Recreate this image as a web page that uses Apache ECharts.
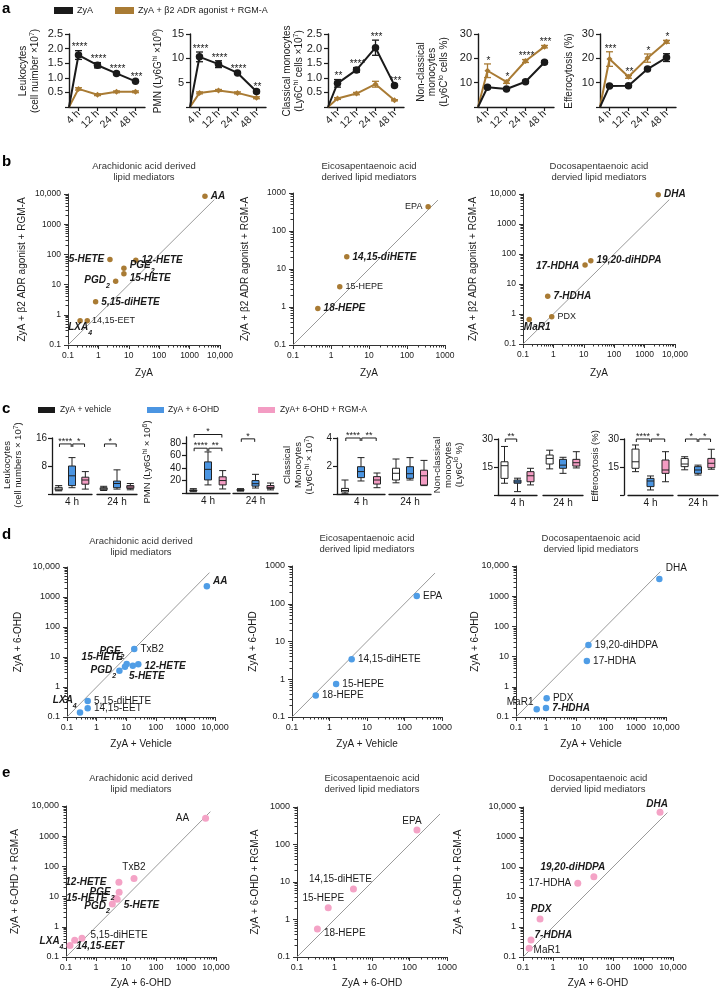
<!DOCTYPE html>
<html><head><meta charset="utf-8">
<script src="https://cdn.jsdelivr.net/npm/echarts@6.0.0/dist/echarts.min.js"></script>
<style>html,body{margin:0;padding:0;background:#fff;}#chart{width:720px;height:991px;}</style>
</head><body><div id="chart"></div>
<script>
// ================= DATA =================
// Panel a (mean, SEM)
const timeLabels = ['4 h', '12 h', '24 h', '48 h'];
const leukZyA = [1.78, 1.43, 1.15, 0.88];
const leukZyAErr = [0.15, 0.09, 0.04, 0.03];
const leukAgo = [0.62, 0.42, 0.52, 0.52];
const leukAgoErr = [0.04, 0.03, 0.03, 0.03];
const leukSig = ['****', '****', '****', '***'];
const pmnZyA = [10.3, 8.8, 7.0, 3.2];
const pmnZyAErr = [1.0, 0.7, 0.2, 0.3];
const pmnAgo = [2.9, 3.4, 2.9, 1.9];
const pmnAgoErr = [0.2, 0.2, 0.2, 0.2];
const pmnSig = ['****', '****', '****', '**'];
const cmZyA = [0.81, 1.27, 2.03, 0.74];
const cmZyAErr = [0.13, 0.08, 0.26, 0.04];
const cmAgo = [0.29, 0.46, 0.78, 0.23];
const cmAgoErr = [0.03, 0.04, 0.10, 0.02];
const cmSig = ['**', '****', '***', '***'];
const ncmZyA = [8.1, 7.4, 10.4, 18.4];
const ncmZyAErr = [0.6, 0.5, 0.5, 0.6];
const ncmAgo = [14.9, 10.3, 18.9, 24.8];
const ncmAgoErr = [2.8, 0.6, 0.6, 0.5];
const ncmSig = ['*', '*', '****', '***'];
const effZyA = [8.6, 8.7, 15.6, 20.3];
const effZyAErr = [0.5, 0.5, 0.6, 1.6];
const effAgo = [19.7, 12.4, 20.1, 26.8];
const effAgoErr = [3.0, 0.6, 1.7, 0.6];
const effSig = ['***', '**', '*', '*'];

// Panel c boxes [min, Q1, median, Q3, max] for vehicle, 6-OHD, 6-OHD + RGM-A
const cGroups = ['ZyA + vehicle', 'ZyA + 6-OHD', 'ZyA+ 6-OHD + RGM-A'];
const leukBox4h = [[0.9, 1.1, 1.4, 1.9, 2.4], [1.8, 2.4, 5.2, 8.0, 10.4], [1.4, 2.8, 4.0, 4.8, 6.4]];
const leukBox24h = [[1.0, 1.2, 1.5, 1.8, 2.2], [1.4, 1.8, 3.0, 3.7, 6.9], [1.2, 1.6, 2.0, 2.4, 3.0]];
const pmnBox4h = [[2, 3, 4, 5, 7], [13, 21, 38, 50, 66], [6.5, 13, 20, 26, 36]];
const pmnBox24h = [[3, 4, 5, 6, 7], [8, 11, 15, 20, 30], [5, 7, 9, 12, 16]];
const cmBox4h = [[0.05, 0.15, 0.25, 0.4, 1.0], [0.93, 1.17, 1.6, 1.95, 2.6], [0.45, 0.71, 1.0, 1.24, 1.5]];
const cmBox24h = [[0.8, 1.0, 1.48, 1.84, 2.5], [1.0, 1.12, 1.45, 1.95, 2.6], [0.6, 0.64, 1.3, 1.7, 2.4]];
const ncmBox4h = [[6.3, 8.9, 15.7, 17.8, 26], [1.8, 6.3, 7, 8, 9], [5.4, 7.1, 10.3, 12.5, 14.3]];
const ncmBox24h = [[14, 16.6, 19.6, 21.4, 24], [11.6, 14.3, 16, 19.1, 20.2], [14.5, 15.5, 17.3, 19.1, 23.2]];
const effBox4h = [[12.5, 14.3, 17.8, 24.6, 26.8], [2.7, 4.5, 7.5, 8.9, 10.2], [7.1, 11.6, 13.4, 18.75, 23.2]];
const effBox24h = [[13.5, 15.2, 16.6, 19.6, 20.5], [10.7, 11.6, 13.4, 15.2, 16], [13.8, 14.6, 17, 19.6, 24.5]];
// significance brackets [fromGroup, toGroup, stars, height]
const leukSig4h = [[0, 1, '****', 14.3], [1, 2, '*', 14.3]];
const leukSig24h = [[0, 1, '*', 14.3]];
const pmnSig4h = [[0, 2, '*', 94], [0, 1, '****', 72], [1, 2, '**', 72]];
const pmnSig24h = [[0, 1, '*', 87]];
const cmSig4h = [[0, 1, '****', 4.0], [1, 2, '**', 4.0]];
const ncmSig4h = [[0, 1, '**', 30]];
const effSig4h = [[0, 1, '****', 30], [1, 2, '*', 30]];
const effSig24h = [[0, 1, '*', 30], [1, 2, '*', 30]];

// Panel b (ZyA vs ZyA + b2 agonist + RGM-A)
const b1Names = ['AA', '5-HETE', '12-HETE', 'PGE2', '15-HETE', 'PGD2', '5,15-diHETE', 'LXA4', '14,15-EET'];
const b1X = [3200, 2.4, 17, 6.9, 6.9, 3.7, 0.81, 0.25, 0.43];
const b1Y = [8500, 68, 64, 35, 23, 13, 2.7, 0.64, 0.64];
const b2Names = ['EPA', '14,15-diHETE', '15-HEPE', '18-HEPE'];
const b2X = [360, 2.6, 1.7, 0.45];
const b2Y = [435, 21, 3.4, 0.92];
const b3Names = ['DHA', '19,20-diHDPA', '17-HDHA', '7-HDHA', 'PDX', 'MaR1'];
const b3X = [2800, 17, 11, 0.65, 0.88, 0.16];
const b3Y = [9500, 60, 43, 3.9, 0.81, 0.66];
// Panel d (ZyA + vehicle vs ZyA + 6-OHD)
const d1Names = ['AA', 'TxB2', 'PGE2', '15-HETE', '12-HETE', '5-HETE', 'PGD2', '5,15-diHETE', '14,15-EET', 'LXA4'];
const d1X = [5300, 18.7, 10.4, 9.1, 25.6, 16.7, 5.9, 0.5, 0.5, 0.275];
const d1Y = [2300, 18.5, 5.8, 4.7, 5.7, 5.1, 3.5, 0.34, 0.195, 0.14];
const d2Names = ['EPA', '14,15-diHETE', '15-HEPE', '18-HEPE'];
const d2X = [212, 3.9, 1.5, 0.43];
const d2Y = [160, 3.4, 0.75, 0.37];
const d3Names = ['DHA', '19,20-diHDPA', '17-HDHA', 'PDX', '7-HDHA', 'MaR1'];
const d3X = [6000, 26, 23, 1.05, 1.0, 0.49];
const d3Y = [3700, 24, 7.1, 0.42, 0.2, 0.18];
// Panel e (ZyA + 6-OHD vs ZyA + 6-OHD + RGM-A)
const e1Names = ['AA', 'TxB2', '12-HETE', 'PGE2', '15-HETE', '5-HETE', 'PGD2', '5,15-diHETE', '14,15-EET', 'LXA4'];
const e1X = [4500, 18.5, 5.8, 5.9, 4.6, 5.1, 3.5, 0.34, 0.195, 0.136];
const e1Y = [3900, 40, 30, 14, 8.7, 8.1, 5.7, 0.42, 0.36, 0.24];
const e2Names = ['EPA', '14,15-diHETE', '15-HEPE', '18-HEPE'];
const e2X = [158, 3.2, 0.68, 0.35];
const e2Y = [245, 6.5, 2.07, 0.56];
const e3Names = ['DHA', '19,20-diHDPA', '17-HDHA', 'PDX', '7-HDHA', 'MaR1'];
const e3X = [3700, 23, 6.7, 0.37, 0.185, 0.16];
const e3Y = [6700, 47, 29, 1.85, 0.37, 0.195];

// ================= STYLE / LAYOUT =================
const FONT = '"Liberation Sans", Arial, Helvetica, sans-serif';
const INK = '#1a1a1a';
const BROWN = '#a97b34';
const BLUE = '#4b95e2';
const PINK = '#f39cc3';
const DOT_BLUE = '#4f9de6';
const DOT_PINK = '#f4a3c6';

const grids = [], xAxes = [], yAxes = [], series = [], graphics = [];
function addGrid(left, top, width, height) {
  grids.push({left: left, top: top, width: width, height: height, containLabel: false, outerBoundsMode: 'none'});
  return grids.length - 1;
}
function addText(x, y, text, o) {
  o = o || {};
  const fs = o.fs || 10;
  const align = o.align || 'center';
  const st = {text: text, fill: o.color || INK, fontSize: fs, fontFamily: FONT, fontWeight: o.weight || 'normal',
    align: align, verticalAlign: 'middle', textAlign: align, textVerticalAlign: 'middle',
    lineHeight: o.lh || Math.round(fs * 1.15)};
  if (o.rich) st.rich = o.rich;
  graphics.push({type: 'text', x: x, y: y, rotation: o.rot || 0, silent: true, z: 100, style: st});
}
function supRich(fs, lh) {
  return {
    m: {fontSize: fs, fontFamily: FONT, fill: INK, lineHeight: lh, verticalAlign: 'bottom'},
    s: {fontSize: Math.round(fs * 0.7), fontFamily: FONT, fill: INK, lineHeight: lh, verticalAlign: 'top'}
  };
}
const ROT = Math.PI / 2;

// ---------- Panel a ----------
const A_TICKS = timeLabels.map(function (_, i) { return i + 0.5; });
function errRender(color) {
  return function (params, api) {
    const x = api.value(0), m = api.value(1), e = api.value(2);
    const t = api.coord([x, m + e]), b = api.coord([x, m - e]);
    const w = 3.5, st = {stroke: color, lineWidth: 1.3};
    return {type: 'group', children: [
      {type: 'line', shape: {x1: t[0], y1: t[1], x2: b[0], y2: b[1]}, style: st},
      {type: 'line', shape: {x1: t[0] - w, y1: t[1], x2: t[0] + w, y2: t[1]}, style: st},
      {type: 'line', shape: {x1: b[0] - w, y1: b[1], x2: b[0] + w, y2: b[1]}, style: st}
    ]};
  };
}
function aChart(left, zy, zyE, ag, agE, sig, yMax, yInt, yFmt) {
  const gi = addGrid(left, 34, 76, 73);
  const xi = xAxes.push({gridIndex: gi, type: 'value', min: 0, max: timeLabels.length,
    axisLine: {show: true, onZero: false, lineStyle: {color: INK, width: 1.4}},
    axisTick: {show: true, customValues: A_TICKS, length: 4, lineStyle: {color: INK, width: 1.2}},
    axisLabel: {show: true, customValues: A_TICKS, rotate: 45, margin: 5, fontSize: 10.5, fontFamily: FONT, color: INK,
      formatter: function (v) { return timeLabels[Math.round(v - 0.5)] || ''; }},
    splitLine: {show: false}}) - 1;
  const yi = yAxes.push({gridIndex: gi, type: 'value', min: 0, max: yMax, interval: yInt,
    axisLine: {show: true, onZero: false, lineStyle: {color: INK, width: 1.4}},
    axisTick: {show: true, length: 4, lineStyle: {color: INK, width: 1.2}},
    axisLabel: {fontSize: 11, fontFamily: FONT, color: INK, margin: 6, formatter: yFmt},
    splitLine: {show: false}}) - 1;
  const ax = {xAxisIndex: xi, yAxisIndex: yi};
  series.push(Object.assign({type: 'line', name: 'ZyA + β2 ADR agonist + RGM-A', silent: true,
    data: [{value: [0, 0], symbol: 'none'}].concat(ag.map(function (v, i) { return [i + 0.5, v]; })),
    symbol: 'diamond', symbolSize: 6, lineStyle: {color: BROWN, width: 2}, itemStyle: {color: BROWN}, z: 3}, ax));
  series.push(Object.assign({type: 'custom', silent: true, z: 3,
    data: ag.map(function (v, i) { return [i + 0.5, v, agE[i]]; }), encode: {x: 0, y: 1}, renderItem: errRender(BROWN)}, ax));
  series.push(Object.assign({type: 'line', name: 'ZyA', silent: true,
    data: [{value: [0, 0], symbol: 'none'}].concat(zy.map(function (v, i) { return [i + 0.5, v]; })),
    symbol: 'circle', symbolSize: 7.5, lineStyle: {color: INK, width: 2}, itemStyle: {color: INK}, z: 4}, ax));
  series.push(Object.assign({type: 'custom', silent: true, z: 4,
    data: zy.map(function (v, i) { return [i + 0.5, v, zyE[i]]; }), encode: {x: 0, y: 1}, renderItem: errRender(INK)}, ax));
  series.push(Object.assign({type: 'custom', silent: true, z: 6,
    data: sig.map(function (s, i) { return [i + 0.5, Math.max(zy[i] + zyE[i], ag[i] + agE[i])]; }), encode: {x: 0, y: 1},
    renderItem: function (params, api) {
      const c = api.coord([api.value(0), api.value(1)]);
      return {type: 'text', x: c[0] + 1, y: c[1] + 2, style: {text: sig[params.dataIndex], fill: INK, fontSize: 10, fontFamily: FONT,
        align: 'center', verticalAlign: 'bottom', textAlign: 'center', textVerticalAlign: 'bottom'}};
    }}, ax));
}
const fmt1 = function (v) { return v === 0 ? '' : v.toFixed(1); };
const fmt0 = function (v) { return v === 0 ? '' : String(v); };
aChart(69, leukZyA, leukZyAErr, leukAgo, leukAgoErr, leukSig, 2.5, 0.5, fmt1);
aChart(190, pmnZyA, pmnZyAErr, pmnAgo, pmnAgoErr, pmnSig, 15, 5, fmt0);
aChart(328, cmZyA, cmZyAErr, cmAgo, cmAgoErr, cmSig, 2.5, 0.5, fmt1);
aChart(478, ncmZyA, ncmZyAErr, ncmAgo, ncmAgoErr, ncmSig, 30, 10, fmt0);
aChart(600, effZyA, effZyAErr, effAgo, effAgoErr, effSig, 30, 10, fmt0);

// ---------- Panel c ----------
const C_FILLS = ['#ffffff', BLUE, PINK];
function bracketRender(sig) {
  return function (params, api) {
    const s = sig[params.dataIndex];
    const p1 = api.coord([api.value(0), api.value(2)]);
    const p2 = api.coord([api.value(1), api.value(2)]);
    const x1 = p1[0] + 0.8, x2 = p2[0] - 0.8, y = p1[1];
    return {type: 'group', children: [
      {type: 'polyline', shape: {points: [[x1, y + 3], [x1, y], [x2, y], [x2, y + 3]]}, style: {stroke: INK, lineWidth: 1, fill: 'none'}},
      {type: 'text', x: (x1 + x2) / 2, y: y + 2, style: {text: s[2], fill: INK, fontSize: 9, fontFamily: FONT,
        align: 'center', verticalAlign: 'bottom', textAlign: 'center', textVerticalAlign: 'bottom'}}
    ]};
  };
}
function cGroup(o) {
  const gi = addGrid(o.left, o.top, o.width, o.height);
  const xi = xAxes.push({gridIndex: gi, type: 'category', data: cGroups,
    axisLine: {show: true, onZero: false, lineStyle: {color: INK, width: 1.3}}, axisTick: {show: false}, axisLabel: {show: false},
    name: o.label, nameLocation: 'middle', nameGap: 3, nameTextStyle: {fontSize: 10, fontFamily: FONT, color: INK},
    splitLine: {show: false}}) - 1;
  const yi = yAxes.push({gridIndex: gi, type: 'value', min: 0, max: o.yMax, show: o.showY, offset: o.yOffset || 0,
    axisLine: {show: true, onZero: false, lineStyle: {color: INK, width: 1.3}},
    axisTick: {show: true, customValues: o.yTicks, length: 4, lineStyle: {color: INK, width: 1.2}},
    axisLabel: {show: true, customValues: o.yLabels, fontSize: 10, fontFamily: FONT, color: INK, margin: 5},
    splitLine: {show: false}}) - 1;
  series.push({type: 'boxplot', xAxisIndex: xi, yAxisIndex: yi, boxWidth: [7, 7], silent: true, z: 3,
    data: o.boxes.map(function (b, i) { return {value: b, itemStyle: {color: C_FILLS[i], borderColor: '#222', borderWidth: 1}}; })});
  if (o.sig && o.sig.length) {
    series.push({type: 'custom', xAxisIndex: xi, yAxisIndex: yi, silent: true, z: 5,
      data: o.sig.map(function (s) { return [s[0], s[1], s[3]]; }), encode: {x: [0, 1], y: 2}, renderItem: bracketRender(o.sig)});
  }
}
function cChart(top, height, yMax, yTicks, yLabels, g4, g24, yOffset) {
  cGroup({left: g4[0], width: g4[1], top: top, height: height, yMax: yMax, yTicks: yTicks, yLabels: yLabels,
    boxes: g4[2], sig: g4[3], label: '4 h', showY: true, yOffset: yOffset || 0});
  cGroup({left: g24[0], width: g24[1], top: top, height: height, yMax: yMax, yTicks: yTicks, yLabels: yLabels,
    boxes: g24[2], sig: g24[3], label: '24 h', showY: false});
}
cChart(438, 56, 16, [0, 8, 16], [8, 16], [52, 40, leukBox4h, leukSig4h], [97, 40, leukBox24h, leukSig24h]);
cChart(437, 56, 90, [0, 20, 40, 60, 80], [20, 40, 60, 80], [186, 44, pmnBox4h, pmnSig4h], [233, 45, pmnBox24h, pmnSig24h]);
cChart(438, 56, 4, [0, 2, 4], [2, 4], [337, 48, cmBox4h, cmSig4h], [389, 42, cmBox24h, []]);
cChart(439, 56, 30, [0, 15, 30], [15, 30], [498, 39, ncmBox4h, ncmSig4h], [543, 40, ncmBox24h, []]);
cChart(439, 56, 30, [0, 15, 30], [15, 30], [628, 45, effBox4h, effSig4h], [678, 40, effBox24h, effSig24h], 4);

// ---------- Scatter panels b, d, e ----------
const SUBS = {PGE2: ['PGE', '2'], PGD2: ['PGD', '2'], LXA4: ['LXA', '4']};
function ptRich(fs, fsb) {
  const n = {fontSize: fs, fontFamily: FONT, color: INK};
  const b = {fontSize: fsb, fontFamily: FONT, color: INK, fontWeight: 'bold', fontStyle: 'italic'};
  return {
    nr: n, bi: b,
    nrm: Object.assign({}, n, {lineHeight: 14, verticalAlign: 'top'}),
    nrs: Object.assign({}, n, {fontSize: 7, lineHeight: 14, verticalAlign: 'bottom'}),
    bim: Object.assign({}, b, {lineHeight: 14, verticalAlign: 'top'}),
    bis: Object.assign({}, b, {fontSize: 7, lineHeight: 14, verticalAlign: 'bottom'})
  };
}
function ptLabel(name, bold, place) {
  const pl = place || ['right', 0, 0];
  const k = bold ? 'bi' : 'nr';
  const sub = SUBS[name];
  const f = sub ? '{' + k + 'm|' + sub[0] + '}{' + k + 's|' + sub[1] + '}' : '{' + k + '|' + name + '}';
  return {show: true, position: pl[0], offset: [pl[1], pl[2]], formatter: f};
}
function logFmt(v) {
  const r = Math.round(Math.log10(v));
  if (r < 0) return '0.1';
  if (r >= 4) return '10,000';
  return String(Math.pow(10, r));
}
function minorLogs(maxExp) {
  const out = [];
  for (let e = -1; e < maxExp; e++) for (let k = 2; k <= 9; k++) out.push(e + Math.log10(k));
  return out;
}
function scatterPanel(p) {
  const gi = addGrid(p.left, p.top, p.w, p.h);
  const maxExp = Math.round(Math.log10(p.max));
  const common = {type: 'log', logBase: 10, min: 0.1, max: p.max,
    axisLine: {show: true, onZero: false, lineStyle: {color: '#333', width: 1}},
    axisTick: {show: true, length: 4, lineStyle: {color: '#333', width: 1}},
    splitLine: {show: false}, minorTick: {show: false}};
  const xi = xAxes.push(Object.assign({gridIndex: gi, position: 'bottom'}, common,
    {axisLabel: {fontSize: p.tickFs, fontFamily: FONT, color: INK, margin: 6, formatter: logFmt}})) - 1;
  const yi = yAxes.push(Object.assign({gridIndex: gi, position: 'left'}, common,
    {axisLabel: {fontSize: p.tickFs, fontFamily: FONT, color: INK, margin: 7, formatter: logFmt}})) - 1;
  const helper = {type: 'value', min: -1, max: maxExp, axisLine: {show: false, onZero: false},
    axisTick: {show: true, customValues: minorLogs(maxExp), length: 2.5, lineStyle: {color: '#333', width: 1}},
    axisLabel: {show: false}, splitLine: {show: false}};
  xAxes.push(Object.assign({gridIndex: gi, position: 'bottom'}, helper));
  yAxes.push(Object.assign({gridIndex: gi, position: 'left'}, helper));
  const dEnd = p.max * 0.65;
  series.push({type: 'line', xAxisIndex: xi, yAxisIndex: yi, silent: true, z: 1, symbol: 'none',
    data: [[0.1, 0.1], [dEnd, dEnd]], lineStyle: {color: '#9a9a9a', width: 1}});
  series.push({type: 'scatter', xAxisIndex: xi, yAxisIndex: yi, silent: true, z: 3, symbolSize: p.sym,
    itemStyle: {color: p.color, opacity: 1},
    label: {show: true, distance: 3, rich: ptRich(p.fs, p.fsb)},
    data: p.names.map(function (n, i) {
      return {name: n, value: [p.xs[i], p.ys[i]], label: ptLabel(n, p.bold.indexOf(n) >= 0, p.place[n])};
    })});
  addText(p.left + p.w / 2, p.titleY, p.title, {fs: 9.5, lh: 11, color: '#333'});
  addText(p.left + p.w / 2, p.top + p.h + p.xNameGap, p.xName, {fs: 10});
  addText(p.yNameX, p.top + p.h / 2, p.yName, {fs: 10, rot: ROT});
}
const T_AA = 'Arachidonic acid derived\nlipid mediators';
const T_EPA = 'Eicosapentaenoic acid\nderived lipid mediators';
const T_DHA = 'Docosapentaenoic acid\ndervied lipid mediators';
const Y_B = 'ZyA + β2 ADR agonist + RGM-A';

// b
scatterPanel({left: 68, top: 194, w: 152, h: 151, max: 10000, names: b1Names, xs: b1X, ys: b1Y, color: BROWN, sym: 5.5,
  fs: 9, fsb: 10, tickFs: 8.5, title: T_AA, titleY: 172, xName: 'ZyA', xNameGap: 28, yName: Y_B, yNameX: 22,
  bold: ['AA', '5-HETE', '12-HETE', 'PGE2', '15-HETE', 'PGD2', '5,15-diHETE', 'LXA4'],
  place: {'15-HETE': ['right', 0, 5], 'PGE2': ['right', 0, -1], 'LXA4': ['bottom', 0, -4], 'PGD2': ['left', 0, 1], '5-HETE': ['left', 0, 0], '14,15-EET': ['right', -1, 0]}});
scatterPanel({left: 293, top: 193, w: 152, h: 152, max: 1000, names: b2Names, xs: b2X, ys: b2Y, color: BROWN, sym: 5.5,
  fs: 9, fsb: 10, tickFs: 8.5, title: T_EPA, titleY: 172, xName: 'ZyA', xNameGap: 28, yName: Y_B, yNameX: 245,
  bold: ['14,15-diHETE', '18-HEPE'], place: {'EPA': ['left', 0, 0]}});
scatterPanel({left: 523, top: 194, w: 152, h: 150, max: 10000, names: b3Names, xs: b3X, ys: b3Y, color: BROWN, sym: 5.5,
  fs: 9, fsb: 10, tickFs: 8.5, title: T_DHA, titleY: 172, xName: 'ZyA', xNameGap: 29, yName: Y_B, yNameX: 473,
  bold: ['DHA', '19,20-diHDPA', '17-HDHA', '7-HDHA', 'MaR1'],
  place: {'17-HDHA': ['left', 0, 1], 'MaR1': ['bottom', 8, -3]}});
// d
scatterPanel({left: 67, top: 567, w: 148, h: 150, max: 10000, names: d1Names, xs: d1X, ys: d1Y, color: DOT_BLUE, sym: 6.5,
  fs: 10, fsb: 10, tickFs: 9, title: T_AA, titleY: 546.5, xName: 'ZyA + Vehicle', xNameGap: 27, yName: 'ZyA + 6-OHD', yNameX: 18,
  bold: ['AA', 'PGE2', '15-HETE', '12-HETE', '5-HETE', 'PGD2', 'LXA4'],
  place: {'AA': ['right', 0, -5], 'PGE2': ['left', 4, -11], '15-HETE': ['left', 4, -10], '12-HETE': ['right', 0, 2],
    '5-HETE': ['bottom', 14, -1], 'PGD2': ['left', 3, 2], 'LXA4': ['left', 3, -10]}});
scatterPanel({left: 292, top: 566, w: 150, h: 151, max: 1000, names: d2Names, xs: d2X, ys: d2Y, color: DOT_BLUE, sym: 6.5,
  fs: 10, fsb: 10, tickFs: 9, title: T_EPA, titleY: 544, xName: 'ZyA + Vehicle', xNameGap: 27, yName: 'ZyA + 6-OHD', yNameX: 253,
  bold: [], place: {}});
scatterPanel({left: 516, top: 566, w: 150, h: 151, max: 10000, names: d3Names, xs: d3X, ys: d3Y, color: DOT_BLUE, sym: 6.5,
  fs: 10, fsb: 10, tickFs: 9, title: T_DHA, titleY: 544, xName: 'ZyA + Vehicle', xNameGap: 27, yName: 'ZyA + 6-OHD', yNameX: 475,
  bold: ['7-HDHA'], place: {'DHA': ['top', 17, 0], 'MaR1': ['left', 3, -7]}});
// e
scatterPanel({left: 66, top: 806, w: 150, h: 151, max: 10000, names: e1Names, xs: e1X, ys: e1Y, color: DOT_PINK, sym: 7,
  fs: 10, fsb: 10, tickFs: 9, title: T_AA, titleY: 784, xName: 'ZyA + 6-OHD', xNameGap: 26, yName: 'ZyA + 6-OHD + RGM-A', yNameX: 15,
  bold: ['12-HETE', 'PGE2', '15-HETE', 'PGD2', '5-HETE', 'LXA4', '14,15-EET'],
  place: {'AA': ['left', -10, 0], 'TxB2': ['top', 0, 0], '12-HETE': ['left', -6, 0], 'PGE2': ['left', 2, 2], '15-HETE': ['left', -2, 0],
    'PGD2': ['left', 4, 4], '5-HETE': ['right', 0, 6], '5,15-diHETE': ['right', 2, -3], '14,15-EET': ['right', -5, 6], 'LXA4': ['left', 0, -2]}});
scatterPanel({left: 297, top: 807, w: 150, h: 150, max: 1000, names: e2Names, xs: e2X, ys: e2Y, color: DOT_PINK, sym: 7,
  fs: 10, fsb: 10, tickFs: 9, title: T_EPA, titleY: 784, xName: 'ZyA + 6-OHD', xNameGap: 26, yName: 'ZyA + 6-OHD + RGM-A', yNameX: 255,
  bold: [], place: {'EPA': ['top', -5, 3], '14,15-diHETE': ['top', -13, 2], '15-HEPE': ['top', -5, 2], '18-HEPE': ['right', 0, 4]}});
scatterPanel({left: 523, top: 807, w: 150, h: 150, max: 10000, names: e3Names, xs: e3X, ys: e3Y, color: DOT_PINK, sym: 7,
  fs: 10, fsb: 10, tickFs: 9, title: T_DHA, titleY: 784, xName: 'ZyA + 6-OHD', xNameGap: 26, yName: 'ZyA + 6-OHD + RGM-A', yNameX: 458,
  bold: ['DHA', '19,20-diHDPA', 'PDX', '7-HDHA'],
  place: {'DHA': ['top', -3, 4], '19,20-diHDPA': ['top', -21, 2], '17-HDHA': ['left', 0, 0], 'PDX': ['top', 1, 2], '7-HDHA': ['right', -3, -5], 'MaR1': ['right', -2, 2]}});

// ---------- Texts: letters, legends, axis titles ----------
[['a', 9], ['b', 162], ['c', 409], ['d', 535], ['e', 773]].forEach(function (l) {
  addText(2, l[1], l[0], {fs: 15, weight: 'bold', align: 'left', color: '#000'});
});
// a legend
graphics.push({type: 'rect', silent: true, shape: {x: 54, y: 7, width: 19, height: 7}, style: {fill: INK}});
addText(77, 10.5, 'ZyA', {fs: 9, align: 'left'});
graphics.push({type: 'rect', silent: true, shape: {x: 115, y: 7, width: 19, height: 7}, style: {fill: BROWN}});
addText(138, 10.5, 'ZyA + β2 ADR agonist + RGM-A', {fs: 9, align: 'left'});
// a y titles
const RA = supRich(10, 11.5);
addText(28.5, 71, '{m|Leukocytes}\n{m|(cell nuimber ×10}{s|7}{m|)}', {rot: ROT, rich: RA});
addText(157, 71, '{m|PMN (Ly6G}{s|hi}{m| ×10}{s|6}{m|)}', {rot: ROT, rich: RA});
addText(292.5, 71, '{m|Classical monocytes}\n{m|(Ly6C}{s|hi}{m| cells ×10}{s|7}{m|)}', {rot: ROT, rich: RA});
addText(431.5, 72, '{m|Non-classical}\n{m|monocytes}\n{m|(Ly6C}{s|lo}{m| cells %)}', {rot: ROT, rich: RA});
addText(568, 71, '{m|Efferocytosis (%)}', {rot: ROT, rich: RA});
// c legend
[[38, INK, 60, cGroups[0]], [147, BLUE, 168, cGroups[1]], [258, PINK, 280, cGroups[2]]].forEach(function (g) {
  graphics.push({type: 'rect', silent: true, shape: {x: g[0], y: 407, width: 17, height: 6}, style: {fill: g[1]}});
  addText(g[2], 410, g[3], {fs: 8.5, align: 'left'});
});
// c y titles
const RC = supRich(9.5, 11);
addText(12.5, 465, '{m|Leukocytes}\n{m|(cell numbers × 10}{s|7}{m|)}', {rot: ROT, rich: RC});
addText(147, 462, '{m|PMN (Ly6G}{s|hi}{m| × 10}{s|6}{m|)}', {rot: ROT, rich: RC});
addText(298, 465, '{m|Classical}\n{m|Monocytes}\n{m|(Ly6C}{s|hi}{m| × 10}{s|7}{m|)}', {rot: ROT, rich: RC});
addText(447.5, 465, '{m|Non-classical}\n{m|monocytes}\n{m|(Ly6C}{s|lo}{m| %)}', {rot: ROT, rich: RC});
addText(595, 466, '{m|Efferocytosis (%)}', {rot: ROT, rich: RC});

const option = {
  animation: false,
  backgroundColor: '#ffffff',
  textStyle: {fontFamily: FONT},
  grid: grids, xAxis: xAxes, yAxis: yAxes, series: series, graphic: graphics
};
const chart = echarts.init(document.getElementById('chart'), null, {renderer: 'canvas', width: 720, height: 991});
chart.setOption(option);
</script></body></html>
